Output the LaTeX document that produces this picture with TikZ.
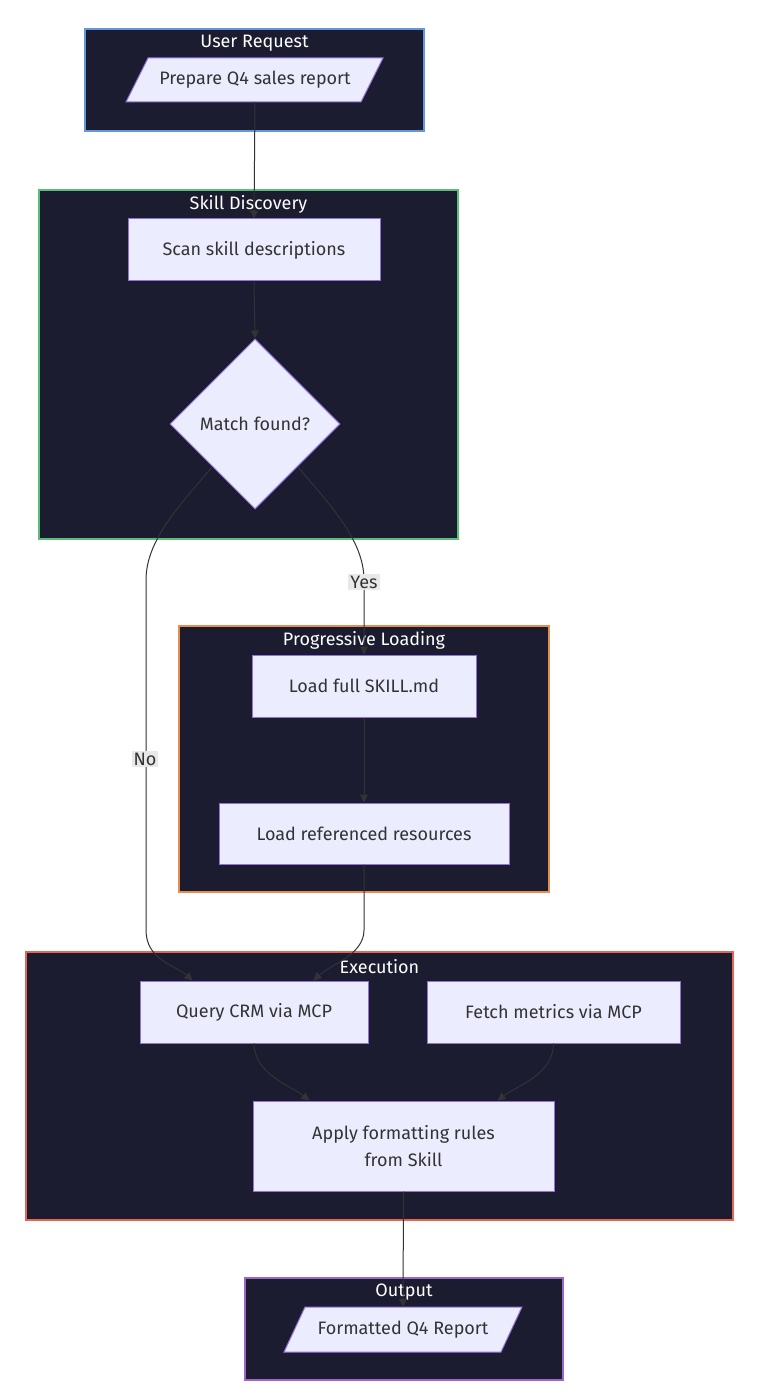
\documentclass[tikz,border=0pt]{standalone}
\usepackage{fontspec}
\setmainfont{Fira Sans}
\usetikzlibrary{shapes.geometric,arrows.meta,calc}
\definecolor{clfill}{RGB}{27,28,48}
\definecolor{nfill}{HTML}{ECECFF}
\definecolor{nborder}{HTML}{9370DB}
\definecolor{ntext}{HTML}{333333}
\definecolor{elabel}{HTML}{E8E8E8}
\definecolor{cblue}{RGB}{100,150,220}
\definecolor{cgreen}{RGB}{90,190,120}
\definecolor{corange}{RGB}{230,140,80}
\definecolor{cred}{RGB}{230,100,80}
\definecolor{cpurple}{RGB}{160,100,200}
\tikzset{
  cluster/.style={fill=clfill, line width=1.2pt},
  ctitle/.style={text=white, font=\fontsize{18}{21}\selectfont, inner sep=0pt},
  box/.style={rectangle, draw=nborder, fill=nfill, line width=1pt, text=ntext,
    font=\fontsize{18}{21}\selectfont, inner sep=0pt, align=center},
  para/.style={draw=nborder, fill=nfill, line width=1pt},
  ptext/.style={rectangle, inner sep=0pt, text=ntext, font=\fontsize{18}{21}\selectfont},
  dec/.style={diamond, draw=nborder, fill=nfill, line width=1pt, text=ntext,
    font=\fontsize{18}{21}\selectfont, inner sep=0pt, minimum width=170pt, minimum height=170pt},
  edge/.style={draw=ntext, line width=1pt, -{Triangle[length=8pt,width=8pt]}},
  elab/.style={fill=elabel, text=ntext, font=\fontsize{18}{21}\selectfont, inner sep=2pt}
}
\begin{document}
\begin{tikzpicture}[x=1pt,y=-1pt]
\useasboundingbox[fill=white] (0,0) rectangle (780,1396);
% clusters
\draw[cluster, draw=cblue] (85,29) rectangle (424,131);
\node[ctitle] (t1) at (254.5,43.5) {User Request};
\draw[cluster, draw=cgreen] (39,190) rectangle (458,539);
\node[ctitle] (t2) at (248.5,204.5) {Skill Discovery};
\draw[cluster, draw=corange] (179,626) rectangle (549,892);
\node[ctitle] (t3) at (364,640.5) {Progressive Loading};
\draw[cluster, draw=cred] (26,952) rectangle (733,1220);
\node[ctitle] (t4) at (379.5,966.5) {Execution};
\draw[cluster, draw=cpurple] (245,1278) rectangle (563,1380);
\node[ctitle] (t5) at (404,1292.5) {Output};
% nodes
\draw[para] (148,58) -- (383,58) -- (361,102) -- (126,102) -- cycle;
\node[ptext, minimum width=213pt, minimum height=44pt] (prep) at (255,80) {Prepare Q4 sales report};
\node[box, minimum width=252pt, minimum height=62pt] (scan) at (254,250) {Scan skill descriptions};
\node[dec] (match) at (255,424) {Match found?};
\node[box, minimum width=224pt, minimum height=62pt] (lf) at (364,686) {Load full SKILL.md};
\node[box, minimum width=290pt, minimum height=61pt] (lr) at (364,833.5) {Load referenced resources};
\node[box, minimum width=228pt, minimum height=62pt] (qcrm) at (254,1012) {Query CRM via MCP};
\node[box, minimum width=253pt, minimum height=62pt] (fetch) at (553.5,1012) {Fetch metrics via MCP};
\node[box, minimum width=301pt, minimum height=90pt, text depth=0pt] (apply) at (403.5,1146) {Apply formatting rules\\[6pt]from Skill};
\draw[para] (305,1307) -- (522,1307) -- (501,1352) -- (284,1352) -- cycle;
\node[ptext, minimum width=217pt, minimum height=45pt] (fmt) at (403,1329.5) {Formatted Q4 Report};
% edges
\draw[edge] (prep.south) -- (scan.north);
\draw[edge] (scan.south) -- (match.north);
\draw[edge] (match.south east) .. controls (330,505) and (364,540) .. (364,580) -- (lf.north);
\draw[edge] (match.south west) .. controls (180,505) and (146,540) .. (146,580) -- (146,930)
  .. controls (146,960) and (175,965) .. ($(qcrm.north west)+(53,0)$);
\draw[edge] (lf.south) -- (lr.north);
\draw[edge] (lr.south) -- (364,930) .. controls (364,955) and (330,965) .. ($(qcrm.north east)+(-55,0)$);
\draw[edge] (qcrm.south) .. controls (255,1075) and (290,1085) .. ($(apply.north west)+(57,0)$);
\draw[edge] (fetch.south) .. controls (553,1075) and (518,1085) .. ($(apply.north east)+(-57,0)$);
\draw[edge] (apply.south) -- (fmt.north);
% edge labels
\node[elab] (yes) at (364,582) {Yes};
\node[elab] (no) at (145,759) {No};
\end{tikzpicture}
\end{document}
